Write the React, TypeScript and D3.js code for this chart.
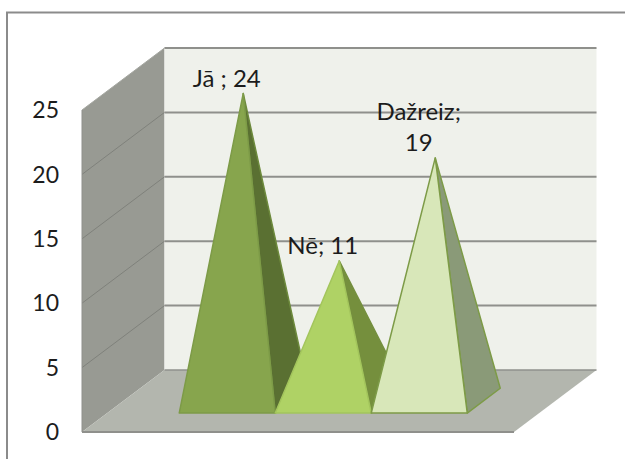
import React from "react";
import * as d3 from "d3";

const categories = ["Jā", "Nē", "Dažreiz"];
const values = [24, 11, 19];
const labelLines = [["Jā ; 24"], ["Nē; 11"], ["Dažreiz;", "19"]];
const ticks = [0, 5, 10, 15, 20, 25];
const frontColors = ["#87a54e", "#afd265", "#d8e7b9"];
const sideColors = ["#5a6f32", "#748f3e", "#8a9a78"];
const frontStrokes = ["#7d9b47", "#a3c55c", "#7d9b47"];
const sideStrokes = ["#6d8a3c", "#748f3e", "#7d9b47"];

const FONT = "Lato, 'Open Sans', sans-serif";
const x = d3.scaleBand<string>().domain(categories).range([82, 514]).paddingInner(0).paddingOuter(0.75);
const y = d3.scaleLinear().domain([0, 25]).range([432, 110]);
const zx = d3.scaleLinear().domain([0, 1]).range([0, 82.5]);
const zy = d3.scaleLinear().domain([0, 1]).range([0, -62]);
const P = (px: number, v: number, z: number): [number, number] => [px + zx(z), y(v) + zy(z)];
const path = (pts: [number, number][]) => d3.line()(pts) + "Z";
const Z0 = 0.306, Z1 = 0.706, ZM = 0.506;
const apexOf = (c: string, v: number): [number, number] => {
  const p = P(x(c)! + x.bandwidth() / 2, v, ZM);
  return [p[0] - 0.5, p[1] + 2];
};

export default function App() {
  const L = 82, R = 514;
  return (
    <svg width={625} height={459} style={{ position: "absolute", left: 0, top: 0, background: "#fff" }}>
      <defs>
        <filter id="soft" x="-5%" y="-5%" width="110%" height="110%"><feGaussianBlur stdDeviation="0.35" /></filter>
      </defs>
      <path d="M7 459V12.5H625" fill="none" stroke="#8b8b8b" strokeWidth={2} />
      <g filter="url(#soft)">
        <path d={path([P(L, 0, 0), P(L, 25, 0), P(L, 25, 1), P(L, 0, 1)])} fill="#989a93" />
        <path d={path([P(L, 0, 1), P(L, 25, 1), P(R, 25, 1), P(R, 0, 1)])} fill="#eff1eb" />
        {ticks.filter(t => t > 0).map(t => (
          <g key={t}>
            <path d={d3.line()([P(L, t, 0), P(L, t, 1)])!} stroke={t === 25 ? "#a5a7a1" : "#7f817b"} strokeWidth={1} fill="none" />
            <path d={d3.line()([P(L, t, 1), P(R, t, 1)])!} stroke="#8f908c" strokeWidth={2} fill="none" />
          </g>
        ))}
        <path d={path([P(L, 0, 0), P(L, 0, 1), P(R, 0, 1), P(R, 0, 0)])} fill="#b3b6ae" />
        <path d={d3.line()([P(L, 0, 1), P(R, 0, 1)])!} stroke="#8f908c" strokeWidth={1.5} fill="none" />
        <path d={d3.line()([P(L, 0, 0), P(R, 0, 0)])!} stroke="#8f908c" strokeWidth={2} fill="none" />
        <path d={d3.line()([P(L, 0, 0), P(L, 25, 0)])!} stroke="#8f908c" strokeWidth={1} fill="none" />
        {categories.map((c, i) => {
          const x0 = x(c)!, x1 = x0 + x.bandwidth();
          const apex = apexOf(c, values[i]);
          return (
            <g key={c} strokeLinejoin="round">
              <path d={path([P(x1, 0, Z0), P(x1, 0, Z1), apex])} fill={sideColors[i]} stroke={sideStrokes[i]} strokeWidth={1.5} />
              <path d={path([P(x0, 0, Z0), P(x1, 0, Z0), apex])} fill={frontColors[i]} stroke={frontStrokes[i]} strokeWidth={1.5} />
            </g>
          );
        })}
      </g>
      {ticks.map(t => (
        <text key={t} x={59} y={y(t)} dy="0.36em" textAnchor="end" fontFamily={FONT} fontSize={23} fill="#1c1c1c">{t}</text>
      ))}
      {categories.map((c, i) => {
        const apex = apexOf(c, values[i]);
        const lines = labelLines[i];
        return lines.map((s, j) => (
          <text key={s} x={apex[0] - 16.5} y={apex[1] - 15.5 - (lines.length - 1 - j) * 31.5} dy="0.36em" textAnchor="middle" fontFamily={FONT} fontSize={24} fill="#1c1c1c">{s}</text>
        ));
      })}
    </svg>
  );
}
